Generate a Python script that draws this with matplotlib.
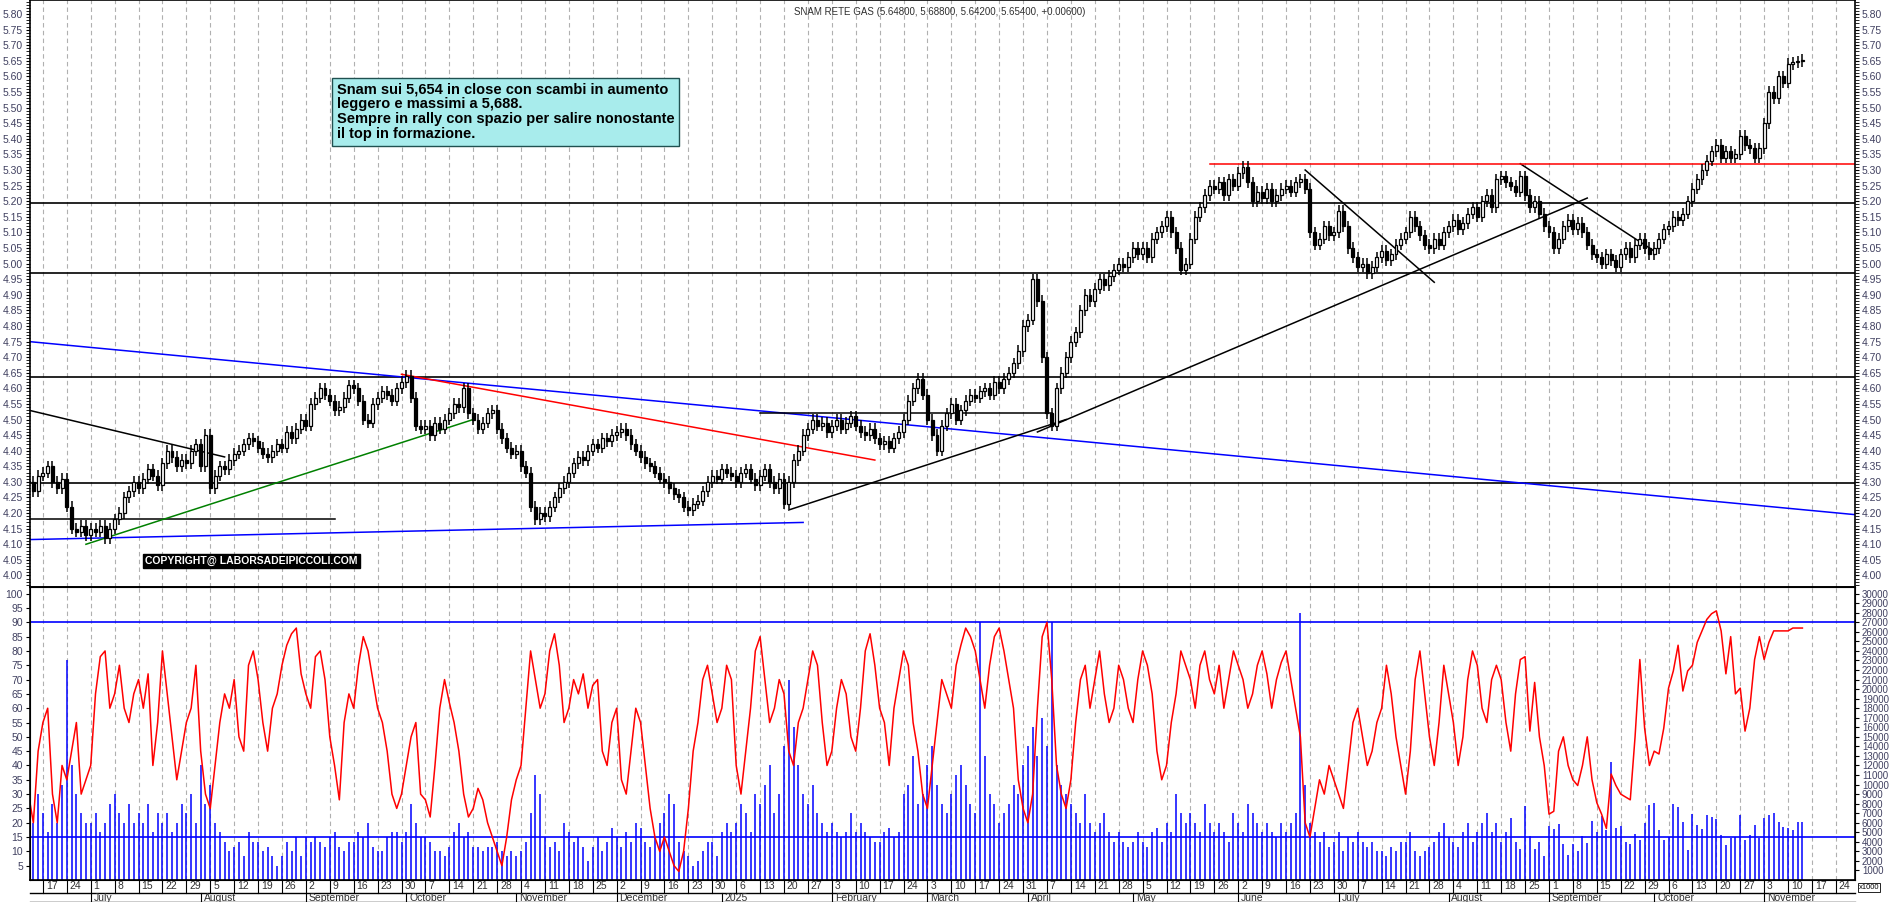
import numpy as np
import pandas as pd
import matplotlib
matplotlib.use("Agg")
import matplotlib.pyplot as plt
from matplotlib.transforms import blended_transform_factory

plt.rcParams['font.family'] = ['Liberation Sans', 'DejaVu Sans']

# daily closes, one row per week (first row: Jun 12-14 2024, last: Nov 10-13 2025)
closes_weeks = [
    [4.30, 4.27, 4.32],
    [4.33, 4.35, 4.30, 4.28, 4.31], [4.22, 4.15, 4.14, 4.16, 4.13], [4.15, 4.14, 4.16, 4.12, 4.15],
    [4.18, 4.20, 4.25, 4.27, 4.30], [4.28, 4.31, 4.34, 4.32, 4.29], [4.36, 4.40, 4.38, 4.35, 4.37],
    [4.36, 4.40, 4.42, 4.35, 4.45], [4.28, 4.32, 4.35, 4.34, 4.37], [4.39, 4.40, 4.42, 4.44, 4.43],
    [4.41, 4.39, 4.38, 4.40, 4.42], [4.41, 4.46, 4.44, 4.47, 4.50], [4.48, 4.55, 4.57, 4.60, 4.58],
    [4.56, 4.53, 4.54, 4.57, 4.61], [4.60, 4.56, 4.50, 4.49, 4.55], [4.57, 4.59, 4.58, 4.56, 4.60],
    [4.62, 4.64, 4.57, 4.48, 4.47], [4.48, 4.45, 4.49, 4.47, 4.50], [4.52, 4.55, 4.54, 4.60, 4.52],
    [4.50, 4.47, 4.49, 4.52, 4.53], [4.47, 4.44, 4.41, 4.39, 4.40], [4.35, 4.33, 4.22, 4.18, 4.20],
    [4.19, 4.22, 4.25, 4.28, 4.30], [4.33, 4.36, 4.38, 4.37, 4.40], [4.42, 4.41, 4.44, 4.43, 4.45],
    [4.46, 4.47, 4.45, 4.42, 4.40], [4.38, 4.36, 4.35, 4.33, 4.31], [4.30, 4.28, 4.26, 4.25, 4.22],
    [4.21, 4.23, 4.24, 4.27, 4.30], [4.32, 4.31, 4.34, 4.33, 4.32], [4.30, 4.33, 4.34, 4.31, 4.29],
    [4.32, 4.34, 4.30, 4.28, 4.31], [4.23, 4.30, 4.37, 4.40, 4.45], [4.47, 4.50, 4.48, 4.49, 4.46],
    [4.48, 4.50, 4.47, 4.49, 4.51], [4.48, 4.46, 4.45, 4.47, 4.44], [4.42, 4.43, 4.41, 4.44, 4.46],
    [4.50, 4.56, 4.60, 4.63, 4.58], [4.50, 4.45, 4.40, 4.48, 4.52], [4.55, 4.50, 4.53, 4.56, 4.58],
    [4.57, 4.59, 4.60, 4.58, 4.62], [4.60, 4.63, 4.65, 4.68, 4.72], [4.80, 4.82, 4.95, 4.88, 4.70],
    [4.52, 4.48, 4.60, 4.65, 4.70], [4.75, 4.78, 4.85, 4.90, 4.88], [4.92, 4.95, 4.93, 4.96, 4.98],
    [5.00, 4.99, 5.02, 5.05, 5.03], [5.05, 5.02, 5.08, 5.10, 5.12], [5.15, 5.10, 5.05, 4.98, 5.00],
    [5.08, 5.15, 5.18, 5.22, 5.25], [5.24, 5.26, 5.22, 5.27, 5.25], [5.29, 5.31, 5.26, 5.20, 5.23],
    [5.21, 5.24, 5.20, 5.22, 5.24], [5.25, 5.23, 5.26, 5.27, 5.24], [5.10, 5.06, 5.08, 5.12, 5.09],
    [5.10, 5.17, 5.12, 5.05, 5.02], [4.99, 5.00, 4.97, 4.99, 5.02], [5.04, 5.01, 5.03, 5.06, 5.08],
    [5.10, 5.15, 5.12, 5.09, 5.06], [5.05, 5.08, 5.06, 5.10, 5.12], [5.14, 5.11, 5.13, 5.16, 5.18],
    [5.15, 5.20, 5.22, 5.18, 5.27], [5.28, 5.26, 5.25, 5.23, 5.28], [5.22, 5.18, 5.20, 5.16, 5.12],
    [5.10, 5.05, 5.08, 5.12, 5.14], [5.11, 5.13, 5.10, 5.06, 5.03], [5.02, 5.00, 5.03, 5.01, 4.99],
    [5.03, 5.05, 5.02, 5.06, 5.08], [5.05, 5.03, 5.05, 5.08, 5.11], [5.12, 5.15, 5.14, 5.16, 5.20],
    [5.24, 5.27, 5.30, 5.33, 5.36], [5.38, 5.34, 5.36, 5.34, 5.35], [5.41, 5.38, 5.37, 5.34, 5.37],
    [5.45, 5.55, 5.53, 5.60, 5.58], [5.64, 5.645, 5.648, 5.654],
]

# volume in thousands
volume_weeks = [
    [8, 6, 9],
    [7, 5, 8, 6, 10], [23, 12, 9, 7, 6], [6, 7, 5, 6, 8], [9, 7, 6, 8, 6], [7, 6, 8, 5, 7],
    [6, 7, 5, 6, 8], [7, 9, 6, 12, 8], [10, 6, 5, 4, 3], [3.5, 4, 2.5, 5, 4], [4, 3, 3.5, 2.5, 1.5],
    [2.5, 4, 3, 4.5, 2.5], [4.5, 4, 4.5, 4, 3.5], [4.5, 5, 3.5, 3, 4], [4, 5, 4.5, 6, 3.5],
    [3, 3, 4.5, 5, 5], [4, 5, 8, 6, 4.5], [4.5, 4, 3, 3, 2.5], [3.5, 5, 6, 4.5, 5],
    [3.5, 3.5, 3, 3.5, 3.5], [4, 3, 2.5, 3, 2.5], [3, 4, 7, 11, 9], [4.5, 3.5, 4, 3, 6],
    [5, 4, 4.5, 3.5, 2], [3.5, 4.5, 3, 4, 5.5], [4.5, 3.5, 5, 4, 6], [5.5, 4, 3.5, 4.5, 6],
    [7, 9, 8, 4, 3], [2.5, 1.5, 2, 3, 4], [4, 2.5, 5, 6, 5], [6, 8, 7, 5, 9], [8, 10, 12, 7, 9],
    [14, 21, 16, 12, 9], [8, 10, 7, 6, 5], [6, 5, 4.5, 5, 7], [5, 6, 5, 4.5, 4], [4, 5, 5.5, 4.5, 5],
    [9, 10, 13, 8, 9], [12, 14, 10, 8, 7], [9, 11, 12, 10, 8], [7, 27, 13, 9, 8], [6, 7, 8, 10, 9],
    [12, 14, 16, 13, 17], [14, 27, 12, 10, 9], [8, 7, 6, 9, 6], [5, 6, 7, 5, 4], [5, 4, 3.5, 4, 5],
    [4, 3.5, 5, 5.5, 4], [6, 5, 9, 7, 6], [7, 6, 5, 8, 6], [5, 6, 5, 4, 7], [6, 5, 8, 7, 6],
    [5, 6, 5, 4.5, 6], [5, 6, 7, 28, 10], [6, 5, 4, 5, 3.5], [4, 5, 3, 4.5, 4], [5, 4, 3.5, 4, 3],
    [3, 2.5, 3.5, 3, 4], [4, 5, 3, 2.5, 3], [3.5, 4, 5, 6, 4.5], [4, 3.5, 5, 6, 4], [5, 6, 7, 5, 6],
    [4, 5, 6.5, 4, 3.3], [7.8, 4.6, 3.2, 4, 2.5], [5.7, 5.3, 5.9, 3.8, 2.6], [3.8, 3, 4.6, 3.9, 6.2],
    [5, 6.7, 5.2, 12.4, 5.5], [5.7, 4, 3.8, 4.8, 4.2], [6, 7.9, 8.1, 5.2, 4.2], [4.5, 8, 7.7, 6.1, 3.1],
    [6.9, 5.8, 5.3, 6.8, 6.6], [6.4, 4.7, 3.7, 4.4, 4.5], [6.8, 4.2, 4.7, 5.8, 4.4],
    [6.5, 6.8, 7, 6.1, 5.6], [5.4, 5.2, 6.1, 6.1],
]

# oscillator on the 0-100 left scale
osc_weeks = [
    [30, 20, 45],
    [55, 60, 30, 20, 40], [35, 45, 55, 30, 35], [40, 65, 78, 80, 60], [65, 75, 60, 55, 65],
    [70, 60, 72, 40, 55], [80, 65, 50, 35, 45], [55, 60, 75, 45, 30], [25, 40, 55, 65, 60],
    [70, 50, 45, 75, 80], [70, 55, 45, 60, 65], [75, 82, 86, 88, 72], [65, 60, 78, 80, 70],
    [50, 40, 28, 55, 65], [60, 75, 85, 80, 70], [60, 55, 45, 30, 25], [30, 40, 50, 55, 30],
    [28, 22, 40, 60, 70], [62, 55, 45, 30, 22], [25, 32, 28, 20, 15], [10, 5, 15, 28, 35],
    [40, 60, 80, 70, 60], [65, 80, 86, 75, 55], [60, 70, 65, 72, 60], [68, 70, 45, 40, 55],
    [60, 35, 30, 45, 60], [55, 40, 25, 15, 10], [15, 10, 5, 3, 10], [25, 45, 55, 70, 75],
    [65, 55, 60, 75, 70], [40, 30, 45, 60, 80], [85, 70, 55, 60, 70], [65, 45, 40, 55, 60],
    [70, 80, 75, 55, 40], [45, 60, 70, 65, 50], [45, 60, 80, 86, 75], [60, 55, 40, 60, 70],
    [80, 75, 55, 45, 30], [25, 40, 55, 70, 65], [60, 75, 82, 88, 85], [80, 70, 60, 75, 85],
    [88, 80, 70, 60, 35], [25, 20, 30, 60, 85], [90, 70, 40, 30, 25], [35, 55, 70, 75, 60],
    [70, 80, 65, 55, 60], [75, 70, 60, 55, 70], [80, 75, 65, 45, 35], [40, 55, 65, 80, 75],
    [70, 60, 75, 80, 70], [65, 75, 60, 70, 80], [75, 70, 60, 65, 75], [80, 72, 60, 70, 76],
    [80, 70, 60, 50, 20], [15, 25, 35, 30, 40], [35, 30, 25, 40, 55], [60, 50, 40, 45, 55],
    [60, 75, 65, 50, 40], [30, 45, 70, 80, 65], [50, 40, 55, 75, 65], [55, 40, 50, 70, 80],
    [75, 60, 55, 70, 75], [70, 55, 45, 65, 77], [78, 52, 69, 50, 40], [23, 24, 45, 50, 40],
    [35, 33, 40, 50, 35], [27, 23, 18, 37, 33], [30, 29, 28, 50, 77], [53, 40, 45, 44, 53],
    [67, 73, 82, 66, 73], [75, 83, 87, 91, 93], [94, 87, 72, 85, 65], [67, 52, 60, 77, 85],
    [77, 83, 87, 87, 87], [87, 88, 88, 88],
]

# horizontal levels and hand-drawn trendlines: (date1, price1, date2, price2, colour)
levels = [5.195, 4.97, 4.635, 4.295]
trendlines = [
    ("2024-06-12", 4.75, "2025-11-28", 4.195, "blue"),
    ("2024-06-12", 4.115, "2025-01-24", 4.17, "blue"),
    ("2024-06-12", 4.18, "2024-09-10", 4.18, "black"),
    ("2024-06-12", 4.53, "2024-08-08", 4.38, "black"),
    ("2024-06-28", 4.10, "2024-10-21", 4.50, "green"),
    ("2024-09-30", 4.645, "2025-02-14", 4.37, "red"),
    ("2025-01-21", 4.21, "2025-04-11", 4.50, "black"),
    ("2025-01-13", 4.52, "2025-04-08", 4.52, "black"),
    ("2025-04-03", 4.46, "2025-09-11", 5.21, "black"),
    ("2025-06-20", 5.30, "2025-07-29", 4.94, "black"),
    ("2025-08-22", 5.32, "2025-10-01", 5.04, "black"),
    ("2025-05-23", 5.32, "2025-11-28", 5.32, "red"),
]
vol_levels = [27000, 4500]

closes = np.array([c for w in closes_weeks for c in w])
volume = np.array([v for w in volume_weeks for v in w]) * 1000
osc = np.array([o for w in osc_weeks for o in w]) * 300
all_days = pd.bdate_range("2024-06-12", "2025-12-05")
pos = {d: i for i, d in enumerate(all_days)}
x = np.arange(len(closes))
opens = np.r_[closes[0], closes[:-1]]

fig = plt.figure(figsize=(18.9, 9.02), dpi=100)
L, R = 30 / 1890, 1855 / 1890
ax = fig.add_axes([L, 1 - 587 / 902, R - L, 587 / 902])
axv = fig.add_axes([L, 1 - 880 / 902, R - L, 293 / 902])
xmin, xmax = 0.3, 382

for a in (ax, axv):
    a.set_xlim(xmin, xmax)
    for d in all_days:
        if d.weekday() == 0:
            a.axvline(pos[d], color="#b0b0b0", ls=(0, (4, 3)), lw=0.8, zorder=0)
    a.set_xticks([])
    for s in a.spines.values():
        s.set_linewidth(1.2)

# candles
up = closes >= opens
hi = np.maximum(opens, closes) + 0.018
lo = np.minimum(opens, closes) - 0.018
ax.vlines(x, lo, hi, color="black", lw=1.1, zorder=3)
body = np.abs(closes - opens)
body = np.where(body < 0.004, 0.004, body)
ax.bar(x, body, bottom=np.minimum(opens, closes), width=0.62,
       color=np.where(up, "white", "black"), edgecolor="black", lw=0.9, zorder=4)

for lv in levels:
    ax.axhline(lv, color="black", lw=1.2, zorder=2)
for d1, p1, d2, p2, c in trendlines:
    ax.plot([pos[pd.Timestamp(d1)], pos[pd.Timestamp(d2)]], [p1, p2], color=c, lw=1.1, zorder=2)

ax.set_ylim(3.963, 5.845)
ticks = np.round(np.arange(4.00, 5.801, 0.05), 2)
ax.set_yticks(ticks)
ax.set_yticklabels([f"{t:.2f}" for t in ticks], fontsize=7.5, color="#404060")
ax.tick_params(axis="y", which="both", left=True, right=True, labelleft=True, labelright=True,
               direction="out", length=3, pad=2)
ax.set_yticks(np.arange(3.97, 5.845, 0.01), minor=True)

ax.text(0.168, 0.86, "Snam sui 5,654 in close con scambi in aumento\nleggero e massimi a 5,688.\n"
        "Sempre in rally con spazio per salire nonostante\nil top in formazione.",
        transform=ax.transAxes, fontsize=10.5, fontweight="bold", va="top", linespacing=1.1,
        bbox=dict(facecolor="#a8ecec", edgecolor="#205050", boxstyle="square,pad=0.3"))
ax.text(0.063, 0.044, "COPYRIGHT@ LABORSADEIPICCOLI.COM", transform=ax.transAxes, fontsize=7.5,
        fontweight="bold", color="white", va="center",
        bbox=dict(facecolor="black", edgecolor="black", boxstyle="square,pad=0.2"))
fig.text(0.497, 0.992, "SNAM RETE GAS (5.64800, 5.68800, 5.64200, 5.65400, +0.00600)",
         fontsize=7, ha="center", va="top", color="#303030")

# lower panel
axv.vlines(x, 0, volume, color="blue", lw=1.1, zorder=2)
axv.plot(x, osc, color="red", lw=1.1, zorder=3)
for lv in vol_levels:
    axv.axhline(lv, color="blue", lw=1.2, zorder=2)
axv.set_ylim(0, 30700)
lt = np.arange(5, 101, 5)
axv.set_yticks(lt * 300)
axv.set_yticklabels([str(t) for t in lt], fontsize=7.5, color="#404060")
axv.tick_params(axis="y", direction="out", length=3, pad=2)
axr = axv.twinx()
axr.set_ylim(0, 30700)
rt = np.arange(1000, 30001, 1000)
axr.set_yticks(rt)
axr.set_yticklabels([str(t) for t in rt], fontsize=7, color="#404060")
axr.tick_params(axis="y", direction="out", length=3, pad=2)
axr.set_xlim(xmin, xmax)
axr.text(1.002, -0.025, "x1000", transform=axr.transAxes, fontsize=5.5, va="center",
         bbox=dict(facecolor="white", edgecolor="black", lw=0.6, pad=0.6))

# date rows
tr = blended_transform_factory(axv.transData, axv.transAxes)
months = ["January", "February", "March", "April", "May", "June", "July", "August",
          "September", "October", "November", "December"]
axv.plot([xmin, xmax], [-0.045, -0.045], color="black", lw=1.0, transform=tr, clip_on=False)
axv.plot([xmin, xmax], [-0.075, -0.075], color="black", lw=1.0, transform=tr, clip_on=False)
prev_m = None
for d in all_days:
    i = pos[d]
    if i < xmin or i > xmax:
        continue
    if d.weekday() == 0:
        axv.plot([i, i], [0, -0.045], color="black", lw=0.8, transform=tr, clip_on=False)
        axv.text(i + 0.6, -0.022, str(d.day), fontsize=7.5, va="center", ha="left",
                 transform=tr, color="#303030")
    if prev_m is not None and d.month != prev_m:
        axv.plot([i, i], [-0.045, -0.075], color="black", lw=0.8, transform=tr, clip_on=False)
        label = "2025" if d.month == 1 else months[d.month - 1]
        axv.text(i + 0.6, -0.061, label, fontsize=7.5, va="center", ha="left",
                 transform=tr, color="#303030")
    prev_m = d.month

fig.savefig("out.png", dpi=100)
